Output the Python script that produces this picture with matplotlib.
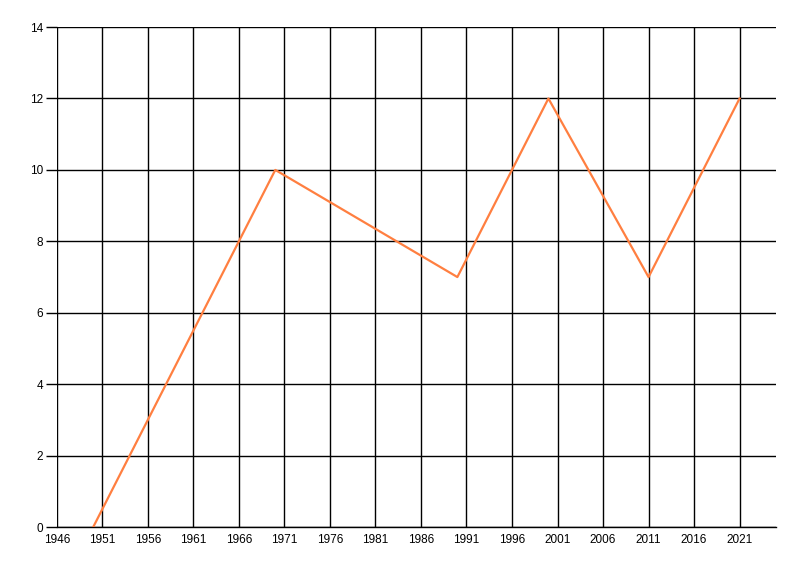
import matplotlib
matplotlib.use("Agg")
import matplotlib.pyplot as plt
import numpy as np

# data
years = [1950, 1970, 1990, 2000, 2011, 2021]
values = [0, 10, 7, 12, 7, 12]

xticks = list(range(1946, 2022, 5))
yticks = list(range(0, 15, 2))

plt.rcParams['font.family'] = ['Liberation Sans', 'DejaVu Sans']

fig = plt.figure(figsize=(8, 5.76), dpi=100)
ax = fig.add_axes([0.071, 0.085, 0.899, 0.868])

ax.plot(years, values, color='#FF7F40', lw=1.6, zorder=3)

ax.set_xlim(1946, 2025)
ax.set_ylim(0, 14)
ax.set_xticks(xticks)
ax.set_yticks(yticks)
ax.grid(True, color='black', lw=1.0, zorder=1)
ax.set_axisbelow(True)

for side in ['top', 'right', 'left']:
    ax.spines[side].set_visible(False)
ax.spines['bottom'].set_color('black')
ax.spines['bottom'].set_linewidth(1.0)

ax.tick_params(axis='x', length=0, pad=5, labelsize=8.5, colors='black')
ax.tick_params(axis='y', length=8, width=1.0, pad=2, labelsize=8.5, colors='black')

fig.savefig('out.png', dpi=100)
